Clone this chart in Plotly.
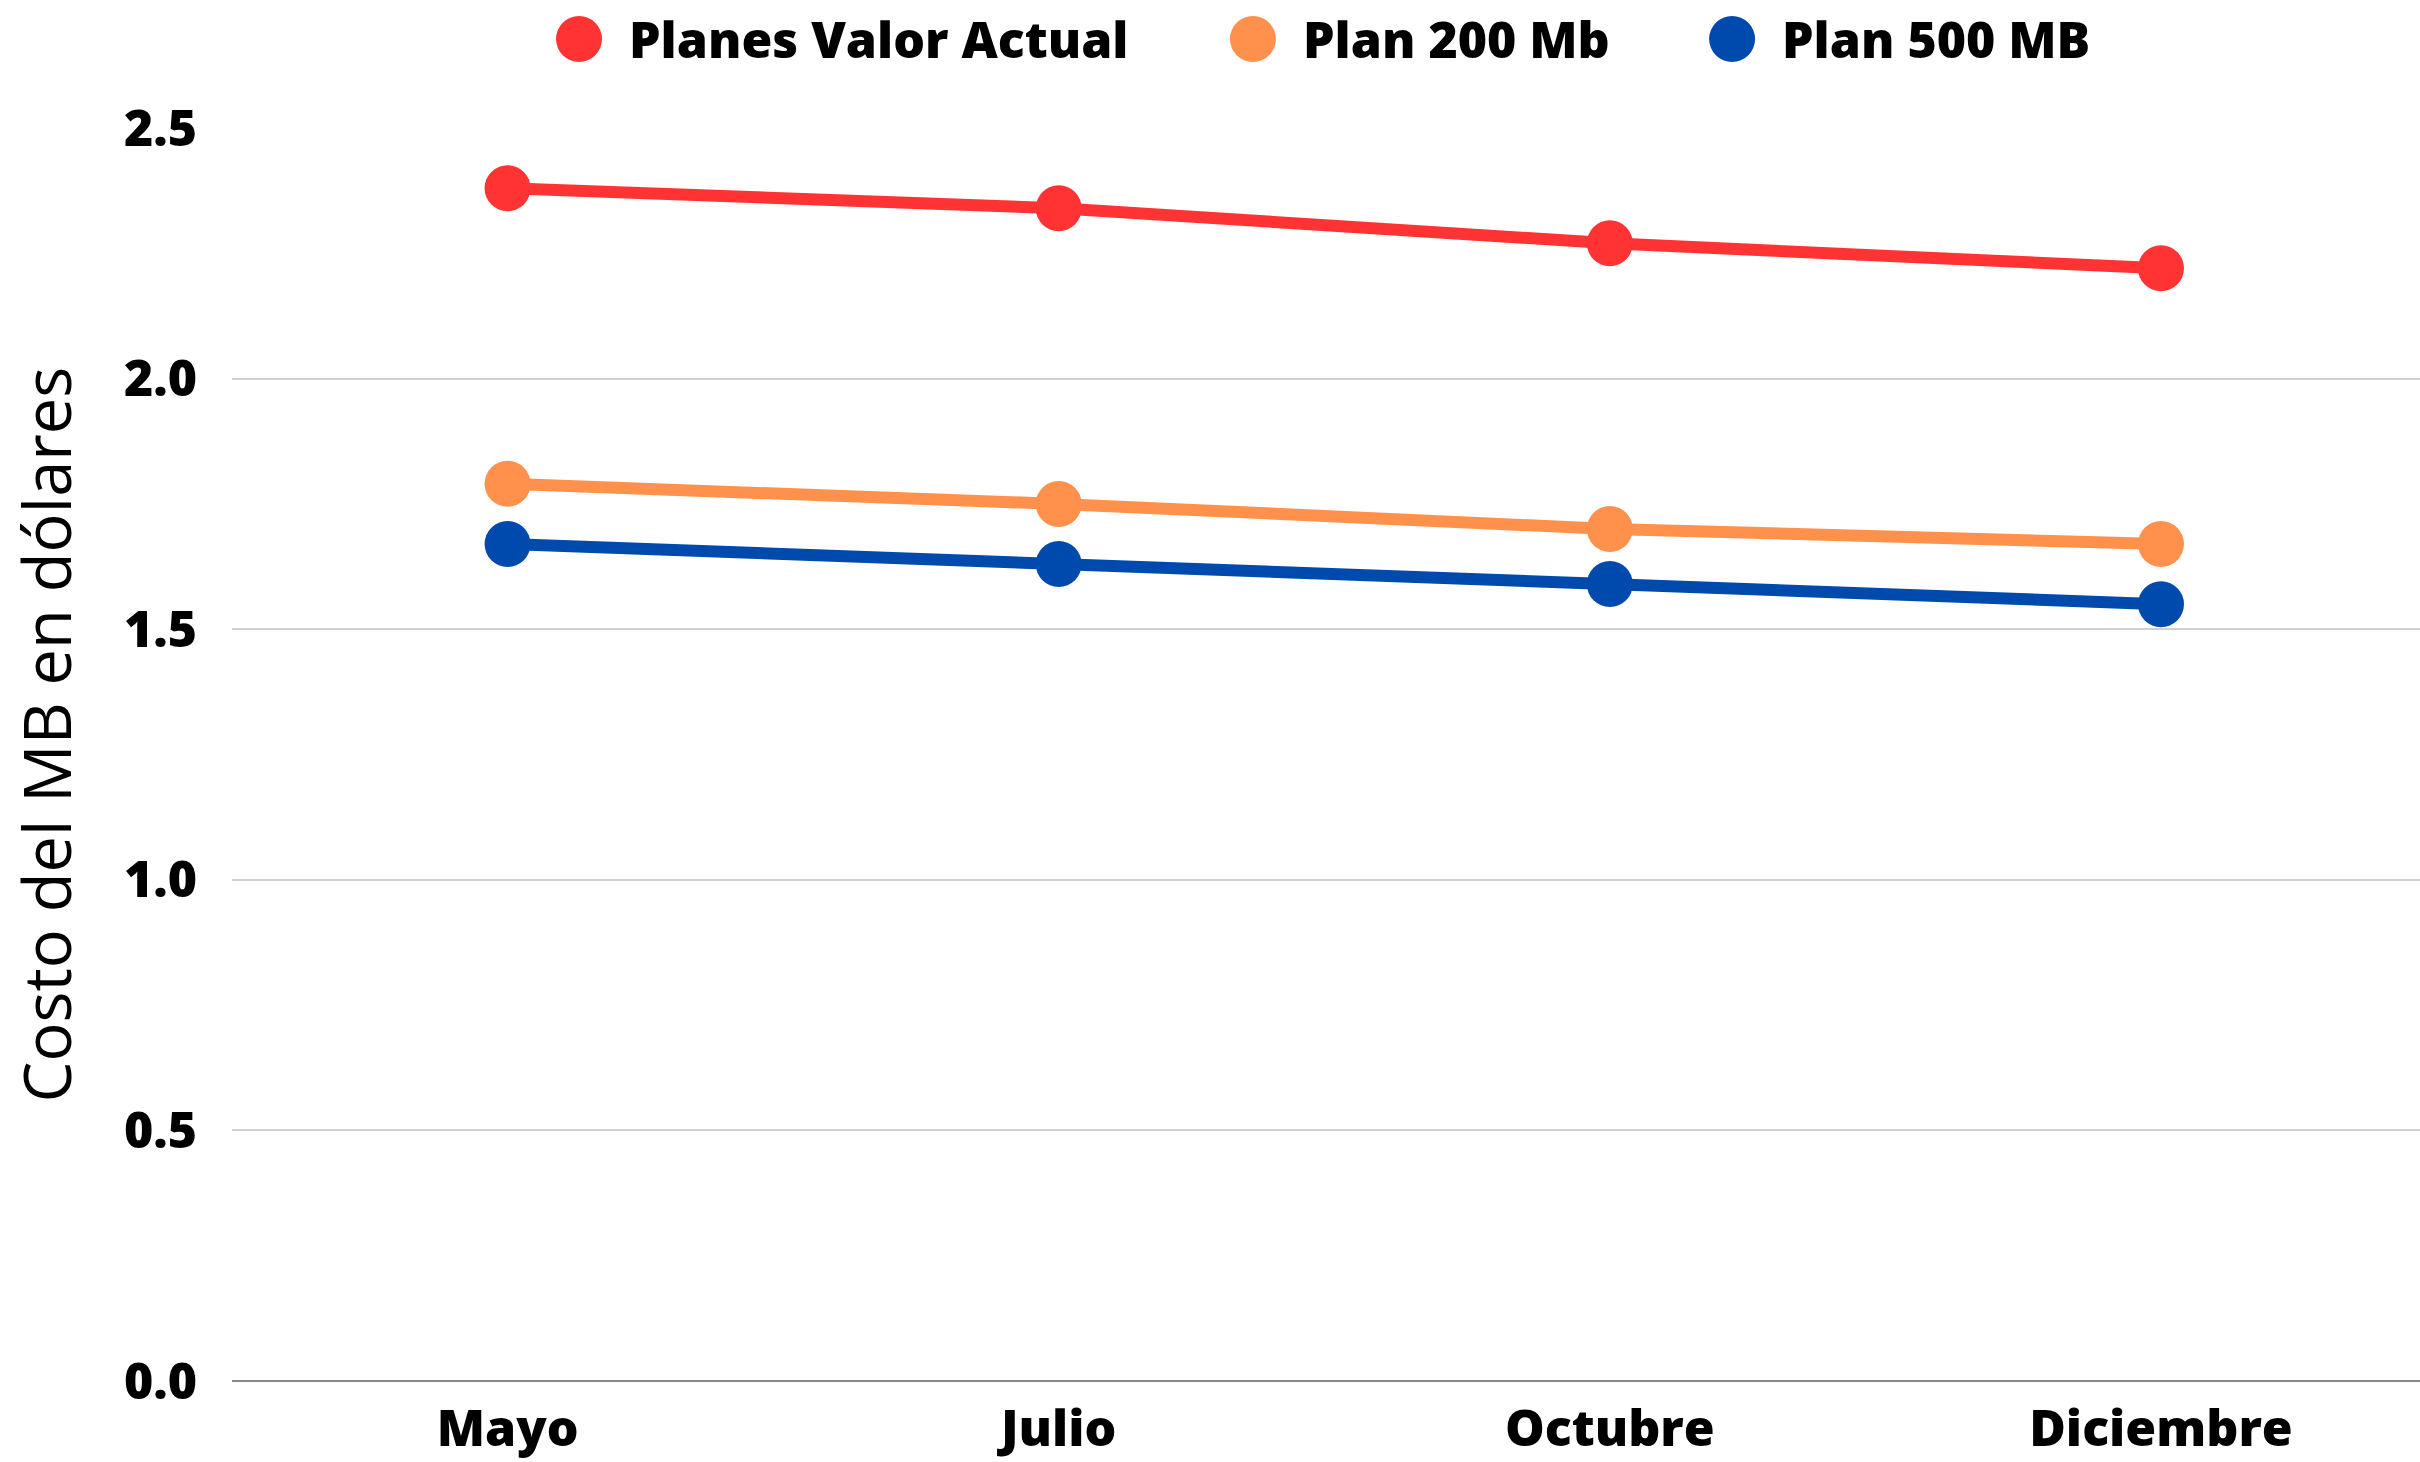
import plotly.graph_objects as go

months = ["Mayo", "Julio", "Octubre", "Diciembre"]
series_names = ["Planes Valor Actual", "Plan 200 Mb", "Plan 500 MB"]
planes_valor_actual = [2.38, 2.34, 2.27, 2.22]
plan_200 = [1.79, 1.75, 1.70, 1.67]
plan_500 = [1.67, 1.63, 1.59, 1.55]
y_ticks = [0.0, 0.5, 1.0, 1.5, 2.0, 2.5]
y_tick_labels = ["0.0", "0.5", "1.0", "1.5", "2.0", "2.5"]
y_title = "Costo del MB en dólares"

colors = ["#FF3333", "#FF914D", "#004AAD"]
values = [planes_valor_actual, plan_200, plan_500]

BOLD = dict(family="Open Sans", size=50, color="#000000", weight=800)

fig = go.Figure()
for name, vals, col in zip(series_names, values, colors):
    fig.add_trace(go.Scatter(
        x=months, y=vals, name=name, mode="lines+markers",
        line=dict(color=col, width=12),
        marker=dict(color=col, size=46),
        showlegend=False,
    ))

# custom legend (large circles)
leg_circle_x = [0.1586, 0.4666, 0.6856]
leg_text_x = [0.1805, 0.4886, 0.7075]
leg_y = 1.071
for name, col, cx, tx in zip(series_names, colors, leg_circle_x, leg_text_x):
    fig.add_shape(type="circle", xref="paper", yref="paper",
                  xsizemode="pixel", ysizemode="pixel",
                  xanchor=cx, yanchor=leg_y, x0=-23, x1=23, y0=-23, y1=23,
                  fillcolor=col, line=dict(width=0))
    fig.add_annotation(x=tx, y=leg_y, xref="paper", yref="paper",
                       text=name, showarrow=False, xanchor="left", yanchor="middle",
                       font=BOLD)

# y-axis title as rotated annotation
fig.add_annotation(x=-0.085, y=0.516, xref="paper", yref="paper",
                   text=y_title, textangle=-90, showarrow=False,
                   xanchor="center", yanchor="middle",
                   font=dict(family="Open Sans", size=65, color="#000000"))

fig.update_layout(
    width=2420, height=1462,
    margin=dict(l=232, r=0, t=128, b=81, autoexpand=False),
    plot_bgcolor="white", paper_bgcolor="white",
    xaxis=dict(
        type="category", range=[-0.5, 3.47],
        showgrid=False, showline=False, zeroline=False,
        tickfont=BOLD, ticks="", ticklabelstandoff=14,
    ),
    yaxis=dict(
        range=[0, 2.5], tickvals=y_ticks, ticktext=y_tick_labels,
        showgrid=True, gridcolor="#D0D0D0", gridwidth=2,
        zeroline=True, zerolinecolor="#888888", zerolinewidth=2,
        showline=False, ticks="", tickfont=BOLD, ticklabelstandoff=34,
    ),
)

fig.write_html("out.html",
               config={"displayModeBar": False},
               post_script="document.body.style.margin='0';document.body.style.overflow='hidden';")
